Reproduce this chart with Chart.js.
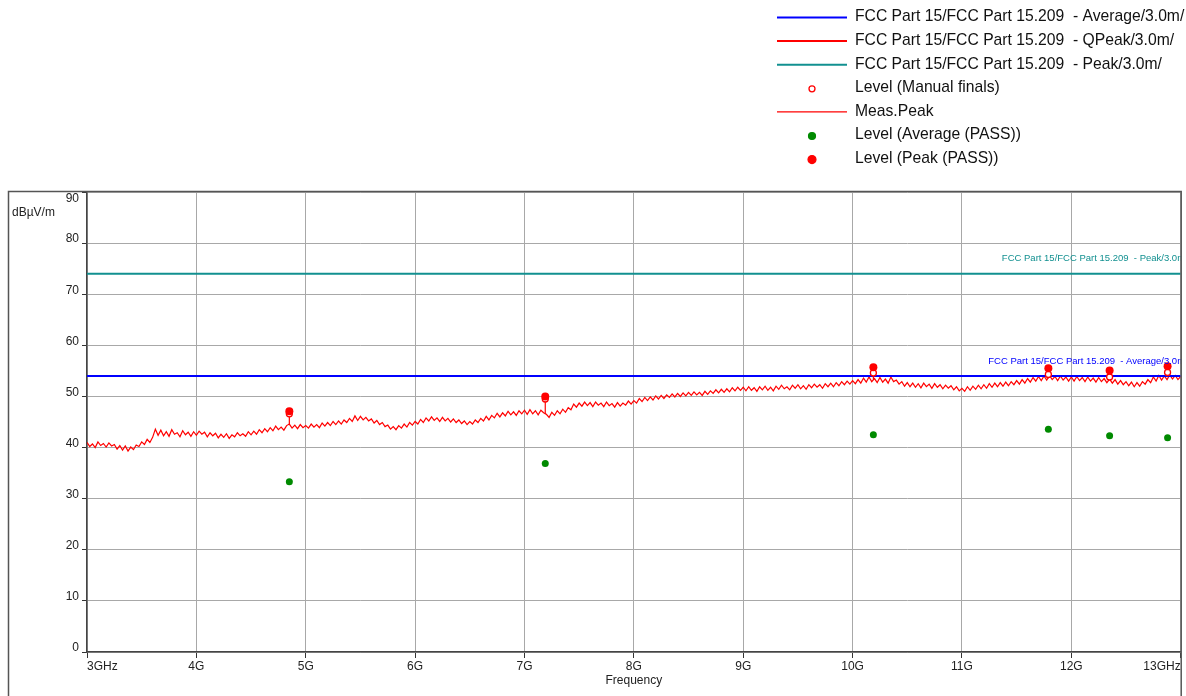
<!DOCTYPE html>
<html>
<head>
<meta charset="utf-8">
<title>Radiated emission 3–13 GHz</title>
<script src="https://cdn.jsdelivr.net/npm/chart.js@4.4.1/dist/chart.umd.min.js"></script>
<style>
  html, body { margin: 0; padding: 0; background: #fff; overflow: hidden; }
  #wrap { width: 1186px; height: 696px; position: relative; }
</style>
</head>
<body>
<div id="wrap"><canvas id="emcChart"></canvas></div>
<script>
// ── Datos ────────────────────────────────────────────────────────────
const SWEEP_START = 3.0;    // GHz
const SWEEP_STEP  = 0.025;  // GHz

// Meas.Peak (dBµV/m), un valor cada 25 MHz desde 3 GHz (una fila por GHz)
const measPeak = [
  41.0, 40.2, 40.7, 40.0, 41.1, 40.4, 40.8, 40.1, 40.9, 40.3, 40.6, 39.7, 40.4, 39.5, 40.3, 39.3, 40.1, 39.6, 40.5, 40.2,
  41.1, 40.6, 41.6, 41.0, 42.0, 43.6, 42.4, 43.4, 42.3, 43.1, 42.2, 43.5, 42.6, 42.9, 42.1, 43.3, 42.5, 43.0, 42.2, 43.1,
  42.4, 43.2, 42.6, 43.0, 42.1, 42.9, 42.3, 42.8, 41.9, 42.6, 42.0, 42.7, 41.8, 42.5, 42.1, 42.9, 42.3, 42.7, 42.2, 43.1,
  42.5, 43.2, 42.6, 43.5, 42.9, 43.7, 43.1, 43.9, 43.3, 44.2, 43.5, 44.0, 43.4, 44.3, 44.6, 43.8, 44.4, 43.7, 44.5, 43.9,
  44.3, 43.8, 44.6, 44.0, 44.5, 43.9, 44.8, 44.2, 44.9, 44.3, 45.1, 44.5, 45.2, 44.6, 45.4, 44.9, 45.7, 45.1, 46.2, 45.3,
  46.1, 45.4, 45.9, 45.2, 45.6, 44.8, 45.3, 44.5, 44.9, 44.1, 44.4, 43.6, 44.1, 43.5, 44.3, 43.8, 44.6, 44.0, 44.9, 44.4,
  45.1, 44.6, 45.5, 44.9, 45.8, 45.2, 46.0, 45.3, 45.8, 45.1, 45.9, 45.2, 45.7, 45.0, 45.6, 44.9, 45.4, 44.7, 45.2, 44.5,
  45.1, 44.6, 45.4, 44.9, 45.7, 45.2, 46.1, 45.4, 46.3, 45.8, 46.7, 46.0, 46.8, 46.2, 47.1, 46.4, 47.0, 46.3, 47.2, 46.6,
  47.3, 46.5, 47.4, 46.6, 47.2, 46.4, 47.3, 46.8, 46.5, 45.9, 46.9, 46.3, 47.2, 46.6, 47.5, 46.9, 47.8, 47.4, 48.5, 47.9,
  48.7, 48.1, 48.9, 48.2, 48.8, 48.0, 48.9, 48.3, 48.7, 48.0, 48.9, 48.2, 48.6, 47.9, 48.8, 48.1, 48.7, 48.3, 49.1, 48.5,
  49.2, 48.7, 49.6, 49.0, 49.8, 49.2, 49.9, 49.3, 50.1, 49.5, 50.2, 49.6, 50.3, 49.8, 50.5, 49.9, 50.6, 50.0, 50.7, 50.1,
  50.8, 50.2, 50.9, 50.3, 50.8, 50.2, 51.0, 50.4, 51.1, 50.6, 51.3, 50.7, 51.4, 50.8, 51.5, 50.9, 51.7, 51.1, 51.8, 51.2,
  51.8, 51.1, 51.9, 51.2, 51.7, 51.0, 51.9, 51.3, 52.0, 51.2, 51.8, 51.1, 52.0, 51.4, 52.2, 51.5, 51.9, 51.3, 52.2, 51.6,
  52.3, 51.5, 52.1, 51.4, 52.3, 51.7, 52.4, 51.8, 52.3, 51.6, 52.5, 51.9, 52.6, 51.9, 52.7, 52.1, 52.9, 52.3, 53.0, 52.4,
  53.1, 52.5, 53.3, 52.6, 53.6, 52.8, 53.8, 52.9, 53.5, 52.7, 53.7, 52.8, 53.4, 52.6, 53.8, 52.9, 53.2, 52.4, 52.9, 52.0,
  52.7, 51.9, 52.6, 51.8, 52.5, 51.7, 52.6, 51.9, 52.4, 51.6, 52.5, 51.8, 52.3, 51.5, 52.2, 51.6, 52.1, 51.3, 51.9, 51.1,
  51.6, 51.0, 51.9, 51.2, 52.0, 51.4, 52.2, 51.5, 52.3, 51.6, 52.5, 51.8, 52.6, 51.9, 52.7, 52.0, 52.8, 52.1, 52.9, 52.3,
  53.1, 52.4, 53.3, 52.6, 53.5, 52.8, 53.7, 53.0, 53.9, 53.1, 54.0, 53.2, 54.1, 53.3, 53.9, 53.1, 54.0, 53.2, 53.8, 53.0,
  53.8, 53.0, 53.9, 53.1, 53.7, 52.9, 53.8, 53.0, 53.6, 52.8, 53.7, 52.9, 53.5, 52.7, 53.4, 52.6, 53.3, 52.4, 53.1, 52.3,
  52.9, 52.1, 52.8, 51.9, 52.7, 52.0, 52.9, 52.4, 53.3, 52.7, 53.8, 53.0, 54.1, 53.2, 54.0, 53.3, 54.2, 53.4, 54.1, 53.3,
  53.9
];

// Líneas límite (FCC 15.209)
const limitFreqs       = [3, 13];
const avgLimitLevels   = [54, 54];
const peakLimitLevels  = [74, 74];
const qpeakLimitLevels = [];   // fuera del rango de este barrido

// Mediciones finales
const finalFreqs   = [4.85, 7.19, 10.19, 11.79, 12.35, 12.88];
const peakLevels   = [47.1, 50.0, 55.7, 55.5, 55.1, 55.9];
const manualLevels = [46.6, 49.5, 54.6, 54.3, 53.8, 54.7];
const avgLevels    = [33.3, 36.9, 42.5, 43.6, 42.3, 41.9];
const stemBase     = [44.6, 46.5, 53.3, 53.5, 53.2, 53.9];

// Ejes
const xTickValues = [3, 4, 5, 6, 7, 8, 9, 10, 11, 12, 13];
const xTickLabels = ['3GHz', '4G', '5G', '6G', '7G', '8G', '9G', '10G', '11G', '12G', '13GHz'];
const yTickValues = [0, 10, 20, 30, 40, 50, 60, 70, 80, 90];

const FONT = "'Liberation Sans', Arial, sans-serif";

// ── Armar puntos ─────────────────────────────────────────────────────
const pts = (xs, ys) => xs.map((x, i) => ({ x, y: ys[i] }));
const sweepPts = measPeak.map((y, i) => ({ x: +(SWEEP_START + i * SWEEP_STEP).toFixed(3), y }));
const stemPts = [];
finalFreqs.forEach((f, i) => {
  stemPts.push({ x: f, y: peakLevels[i] }, { x: f, y: stemBase[i] }, { x: f, y: null });
});

// ── Plugin: marco, leyenda, etiquetas ────────────────────────────────
const emcDecor = {
  id: 'emcDecor',
  afterDatasetsDraw(chart) {
    const { ctx, chartArea: a, scales: { y } } = chart;
    ctx.save();
    ctx.beginPath();
    ctx.rect(a.left, a.top, a.right - a.left, a.bottom - a.top);
    ctx.clip();
    ctx.font = `9.5px ${FONT}`;
    ctx.textAlign = 'right';
    ctx.textBaseline = 'middle';
    chart.data.datasets.forEach(ds => {
      if (!ds.limitLabel || !ds.data.length) return;
      ctx.fillStyle = ds.borderColor;
      ctx.fillText(ds.label, a.right + 7, y.getPixelForValue(ds.data[0].y) - 15);
    });
    ctx.restore();
  },
  afterDraw(chart) {
    const { ctx, chartArea: a, scales: { x, y } } = chart;
    ctx.save();

    // marco exterior
    ctx.strokeStyle = '#555';
    ctx.lineWidth = 1.5;
    ctx.beginPath();
    ctx.moveTo(8.5, 700);
    ctx.lineTo(8.5, a.top - 0.5);
    ctx.lineTo(a.right + 0.5, a.top - 0.5);
    ctx.lineTo(a.right + 0.5, 700);
    ctx.stroke();

    // etiquetas de ejes
    ctx.fillStyle = '#222';
    ctx.font = `12px ${FONT}`;
    ctx.textBaseline = 'middle';
    xTickValues.forEach((v, i) => {
      ctx.textAlign = i === 0 ? 'left' : (i === xTickValues.length - 1 ? 'right' : 'center');
      ctx.fillText(xTickLabels[i], x.getPixelForValue(v), 667);
    });
    ctx.textAlign = 'right';
    yTickValues.forEach(v => {
      const py = y.getPixelForValue(v);
      ctx.fillText(String(v), 79, v === 90 ? py + 7 : py - 4);
    });
    ctx.textAlign = 'center';
    ctx.fillText('Frequency', (a.left + a.right) / 2, 681);
    ctx.textAlign = 'left';
    ctx.fillText('dBµV/m', 12, 213);

    // leyenda
    ctx.font = `15.7px ${FONT}`;
    let row = 0;
    chart.data.datasets.forEach(ds => {
      if (!ds.legendKind) return;
      const cy = 17 + row * 23.6;
      ctx.beginPath();
      if (ds.legendKind === 'line') {
        ctx.strokeStyle = ds.borderColor;
        ctx.lineWidth = ds.borderWidth;
        ctx.moveTo(777, cy + 0.5);
        ctx.lineTo(847, cy + 0.5);
        ctx.stroke();
      } else {
        ctx.arc(812, cy + 1, ds.pointRadius, 0, Math.PI * 2);
        ctx.fillStyle = ds.pointBackgroundColor;
        ctx.fill();
        ctx.strokeStyle = ds.pointBorderColor;
        ctx.lineWidth = ds.pointBorderWidth;
        ctx.stroke();
      }
      ctx.fillStyle = '#111';
      ctx.textAlign = 'left';
      ctx.fillText(ds.label, 855, cy);
      row++;
    });
    ctx.restore();
  },
};

// ── Gráfico ──────────────────────────────────────────────────────────
new Chart(document.getElementById('emcChart'), {
  type: 'line',
  data: {
    datasets: [
      {
        label: 'FCC Part 15/FCC Part 15.209  - Average/3.0m/',
        data: pts(limitFreqs, avgLimitLevels),
        borderColor: '#0000ff', borderWidth: 2, pointRadius: 0,
        legendKind: 'line', limitLabel: true, order: 2,
      },
      {
        label: 'FCC Part 15/FCC Part 15.209  - QPeak/3.0m/',
        data: pts(limitFreqs.slice(0, qpeakLimitLevels.length), qpeakLimitLevels),
        borderColor: '#ff0000', borderWidth: 2, pointRadius: 0,
        legendKind: 'line', limitLabel: true, order: 2,
      },
      {
        label: 'FCC Part 15/FCC Part 15.209  - Peak/3.0m/',
        data: pts(limitFreqs, peakLimitLevels),
        borderColor: '#129090', borderWidth: 2, pointRadius: 0,
        legendKind: 'line', limitLabel: true, order: 2,
      },
      {
        label: 'Level (Manual finals)',
        data: pts(finalFreqs, manualLevels),
        showLine: false, pointRadius: 3, pointBorderWidth: 1.3,
        pointBackgroundColor: '#ffffff', pointBorderColor: '#ff0000',
        borderColor: '#ff0000', legendKind: 'point', order: 1,
      },
      {
        label: 'Meas.Peak',
        data: sweepPts,
        borderColor: '#ff0000', borderWidth: 1.2, pointRadius: 0,
        legendKind: 'line', order: 3,
      },
      {
        label: 'Level (Average (PASS))',
        data: pts(finalFreqs, avgLevels),
        showLine: false, pointRadius: 3.5, pointBorderWidth: 0,
        pointBackgroundColor: '#008a00', pointBorderColor: '#008a00',
        borderColor: '#008a00', legendKind: 'point', order: 0,
      },
      {
        label: 'Level (Peak (PASS))',
        data: pts(finalFreqs, peakLevels),
        showLine: false, pointRadius: 4, pointBorderWidth: 0,
        pointBackgroundColor: '#ff0000', pointBorderColor: '#ff0000',
        borderColor: '#ff0000', legendKind: 'point', order: 0,
      },
      {
        label: 'stems',
        data: stemPts,
        borderColor: '#ff0000', borderWidth: 1.2, pointRadius: 0,
        spanGaps: false, order: 1,
      },
    ],
  },
  options: {
    responsive: true,
    maintainAspectRatio: false,
    devicePixelRatio: 1,
    animation: false,
    layout: { padding: { top: 192, right: 0, left: 0, bottom: 0 } },
    plugins: { legend: { display: false }, tooltip: { enabled: false } },
    elements: { line: { tension: 0 } },
    scales: {
      x: {
        type: 'linear', min: 3, max: 13,
        afterBuildTicks: s => { s.ticks = xTickValues.map(v => ({ value: v })); },
        afterFit: s => { s.height = 44; s.paddingLeft = 0; s.paddingRight = 0; },
        ticks: { display: false },
        grid: { color: '#a8a8a8', lineWidth: 1, tickLength: 6, tickColor: '#333', offset: false },
        border: { color: '#444', width: 1.5 },
      },
      y: {
        min: 0, max: 90,
        afterBuildTicks: s => { s.ticks = yTickValues.map(v => ({ value: v })); },
        afterFit: s => { s.width = 87; s.paddingTop = 0; s.paddingBottom = 0; },
        ticks: { display: false },
        grid: { color: '#a8a8a8', lineWidth: 1, tickLength: 5, tickColor: '#333' },
        border: { color: '#444', width: 1.5 },
      },
    },
  },
  plugins: [emcDecor],
});
</script>
</body>
</html>
